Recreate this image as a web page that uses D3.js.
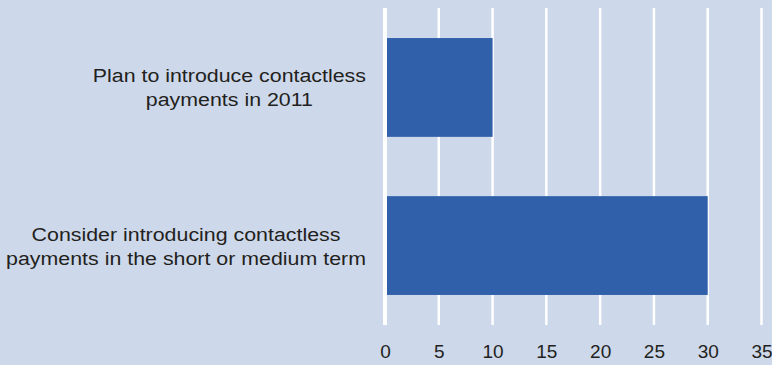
<!DOCTYPE html>
<html>
<head>
<meta charset="utf-8">
<script src="https://cdn.jsdelivr.net/npm/d3@7"></script>
<style>
  html, body { margin: 0; padding: 0; background: #cdd8ea; }
  svg { display: block; }
  text { font-family: "Liberation Sans", Arial, sans-serif; fill: #231f20; }
</style>
</head>
<body>
<div id="chart"></div>
<script>
// categories (each split into its two printed lines) and values
const categories = ["Plan to introduce contactless payments in 2011",
                    "Consider introducing contactless payments in the short or medium term"];
const labelLines = [["Plan to introduce contactless", "payments in 2011"],
                    ["Consider introducing contactless", "payments in the short or medium term"]];
const values = [10, 30];
const xTicks = [0, 5, 10, 15, 20, 25, 30, 35];

const W = 772, H = 365;
const margin = {top: 8, right: 10, bottom: 40, left: 385};

const svg = d3.select("#chart").append("svg")
  .attr("width", W)
  .attr("height", H);

svg.append("rect").attr("width", W).attr("height", H).attr("fill", "#cdd8ea");

const x = d3.scaleLinear()
  .domain([0, 35])
  .range([margin.left, 761.5]);

const y = d3.scaleBand()
  .domain(categories)
  .range([margin.top, H - margin.bottom])
  .paddingInner(0.375)
  .paddingOuter(0.19);

// vertical white gridlines
svg.append("g")
  .selectAll("line")
  .data(xTicks)
  .join("line")
  .attr("x1", d => x(d))
  .attr("x2", d => x(d))
  .attr("y1", margin.top)
  .attr("y2", H - margin.bottom)
  .attr("stroke", "#fff")
  .attr("stroke-width", d => d === 0 ? 4 : 2.5);

// bars
svg.append("g")
  .selectAll("rect")
  .data(categories)
  .join("rect")
  .attr("x", x(0) + 2)
  .attr("y", d => y(d))
  .attr("width", (d, i) => x(values[i]) - x(0) - 2)
  .attr("height", y.bandwidth())
  .attr("fill", "#3060aa");

// x axis tick labels
const xAxis = svg.append("g")
  .attr("transform", `translate(0,${H - margin.bottom})`)
  .call(d3.axisBottom(x).tickValues(xTicks).tickSize(0).tickPadding(20));
xAxis.select(".domain").remove();
xAxis.selectAll("text")
  .attr("font-size", 19)
  .attr("font-family", "Liberation Sans, Arial, sans-serif")
  .attr("fill", "#231f20");

// category labels, centred lines in a block right-aligned to the axis
// (the source text is slightly wider than the font, hence the x stretch)
const rightEdge = 366, lineH = 24, stretch = 1.125;
categories.forEach((c, i) => {
  const g = svg.append("g");
  const t = g.append("text")
    .attr("font-size", 19)
    .attr("text-anchor", "middle");
  const lines = labelLines[i];
  const spans = lines.map(s => t.append("tspan").text(s));
  const maxW = d3.max(spans, s => s.node().getComputedTextLength()) * stretch;
  const cx = rightEdge - maxW / 2;
  const cy = y(c) + y.bandwidth() / 2;
  g.attr("transform", `translate(${cx},0) scale(${stretch},1)`);
  spans.forEach((s, j) => {
    s.attr("x", 0)
     .attr("y", cy + (j - (lines.length - 1) / 2) * lineH + 7);
  });
});
</script>
</body>
</html>
